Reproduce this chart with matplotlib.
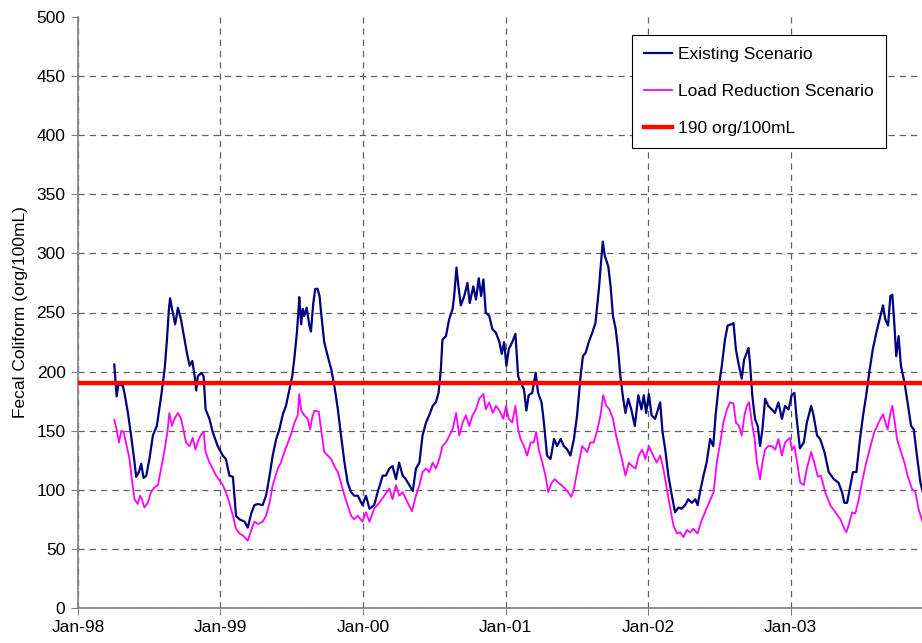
import numpy as np
import matplotlib
matplotlib.use('Agg')
import matplotlib.pyplot as plt
import matplotlib.dates as mdates

# day offsets are counted from 1 Jan 1998
start = np.datetime64('1998-01-01')

existing_day = [93, 99, 103, 106, 115, 119, 128, 136, 145, 149, 156, 162, 168, 175, 183, 192, 202, 213, 222,
                228, 233, 236, 241, 249, 256, 264, 273, 279, 286, 293, 299, 303, 307, 316, 322, 327, 337, 345,
                358, 371, 379, 388, 397, 405, 414, 427, 435, 444, 452, 461, 473, 482, 491, 499, 508, 516, 525,
                533, 542, 549, 555, 561, 566, 567, 572, 576, 580, 586, 593, 597, 603, 608, 614, 619, 623, 631,
                640, 649, 657, 666, 674, 683, 691, 700, 708, 717, 729, 738, 747, 759, 768, 781, 789, 798, 806,
                815, 823, 832, 840, 849, 858, 866, 875, 883, 892, 900, 909, 917, 924, 930, 934, 943, 951, 960,
                964, 970, 975, 981, 990, 998, 1004, 1013, 1020, 1027, 1033, 1039, 1045, 1054, 1062, 1071, 1080,
                1086, 1092, 1098, 1104, 1113, 1121, 1128, 1134, 1143, 1149, 1155, 1164, 1173, 1179, 1188, 1194,
                1202, 1211, 1220, 1228, 1237, 1245, 1254, 1262, 1271, 1279, 1288, 1294, 1301, 1309, 1318, 1326,
                1335, 1341, 1345, 1350, 1359, 1365, 1371, 1378, 1384, 1390, 1396, 1403, 1410, 1418, 1427, 1436,
                1444, 1450, 1456, 1463, 1470, 1479, 1492, 1498, 1505, 1513, 1522, 1530, 1539, 1547, 1556, 1564,
                1573, 1582, 1588, 1594, 1603, 1611, 1620, 1628, 1634, 1641, 1650, 1658, 1665, 1674, 1680, 1686,
                1692, 1701, 1707, 1714, 1718, 1722, 1728, 1735, 1742, 1748, 1754, 1761, 1769, 1778, 1786, 1795,
                1804, 1812, 1821, 1829, 1836, 1841, 1850, 1860, 1868, 1879, 1885, 1894, 1902, 1913, 1924, 1937,
                1949, 1958, 1964, 1971, 1978, 1986, 1995, 2003, 2012, 2020, 2029, 2037, 2046, 2054, 2063, 2069,
                2076, 2082, 2087, 2092, 2097, 2103, 2109, 2118, 2126, 2135, 2142, 2150, 2159, 2165]
existing_val = [206, 179, 188, 189, 188, 182, 165, 146, 123, 111, 115, 122, 110, 112, 126, 146, 154, 179, 202,
                227, 253, 262, 253, 240, 254, 244, 227, 216, 205, 209, 196, 184, 196, 199, 196, 168, 160, 149,
                137, 129, 126, 112, 111, 78, 75, 73, 68, 80, 87, 88, 87, 95, 112, 129, 143, 151, 164,
                171, 185, 196, 213, 233, 256, 263, 240, 253, 247, 254, 239, 234, 258, 270, 270, 264, 250, 225,
                213, 202, 188, 168, 146, 123, 106, 98, 95, 95, 87, 95, 84, 87, 98, 112, 112, 118, 120,
                109, 123, 112, 109, 104, 99, 118, 123, 146, 157, 163, 171, 174, 182, 202, 227, 230, 244, 253,
                264, 288, 272, 256, 264, 275, 258, 272, 261, 279, 264, 278, 250, 247, 236, 233, 225,
                215, 225, 205, 219, 225, 232, 196, 191, 185, 167, 180, 182, 199, 182, 174, 157,
                129, 126, 143, 137, 143, 137, 134, 129, 143, 163, 196, 213, 216, 225, 233, 241,
                270, 295, 310, 298, 289, 272, 247, 236, 219, 196, 180, 165, 177, 168, 154, 180,
                168, 180, 165, 181, 163, 160, 174, 149, 134, 112, 95, 81, 85, 84, 87, 92,
                89, 92, 87, 98, 112, 123, 143, 137, 163, 185, 205, 227, 239, 240, 241, 219,
                208, 194, 210, 216, 220, 208, 180, 160, 154, 137, 151, 177, 171, 168, 165, 174,
                160, 171, 168, 180, 182, 163, 135, 140, 157, 171, 163, 146, 143, 132, 115, 109,
                106, 98, 89, 89, 101, 115, 115, 140, 163, 180, 202, 219, 233, 244, 256, 244,
                239, 264, 265, 241, 213, 230, 205, 191, 174, 154, 151, 129, 106, 98]

reduced_day = [93, 99, 105, 111, 117, 123, 132, 139, 145, 153, 159, 164, 170, 179, 187, 196, 205, 213, 222,
               230, 234, 241, 247, 256, 264, 270, 277, 286, 294, 301, 307, 316, 322, 327, 337, 354, 371,
               379, 388, 397, 405, 414, 424, 435, 444, 452, 461, 473, 482, 491, 499, 512, 520, 529, 538,
               546, 555, 563, 567, 572, 580, 589, 595, 600, 606, 617, 623, 631, 640, 649, 657, 666, 674,
               683, 691, 700, 708, 717, 729, 738, 747, 759, 772, 785, 798, 806, 815, 823, 832, 845, 856,
               866, 875, 883, 892, 900, 909, 917, 926, 934, 943, 952, 960, 969, 977, 986, 994, 1003, 1011,
               1020, 1028, 1039, 1045, 1054, 1063, 1071, 1080, 1090, 1097, 1104, 1113, 1121, 1128, 1134,
               1143, 1151, 1160, 1168, 1174, 1181, 1190, 1198, 1205, 1214, 1222, 1231, 1239, 1248, 1256,
               1264, 1271, 1279, 1292, 1305, 1313, 1322, 1331, 1339, 1346, 1354, 1362, 1371, 1379, 1388,
               1396, 1403, 1412, 1420, 1429, 1437, 1446, 1454, 1463, 1470, 1483, 1492, 1500, 1509, 1518,
               1526, 1535, 1543, 1552, 1560, 1569, 1577, 1588, 1597, 1607, 1617, 1629, 1637, 1646, 1654,
               1663, 1671, 1680, 1686, 1694, 1701, 1708, 1714, 1720, 1727, 1734, 1740, 1748, 1754, 1761,
               1769, 1778, 1787, 1795, 1804, 1812, 1824, 1830, 1836, 1843, 1851, 1860, 1868, 1879, 1887,
               1896, 1904, 1915, 1928, 1941, 1954, 1964, 1969, 1975, 1984, 1992, 2001, 2009, 2020, 2031,
               2041, 2052, 2063, 2069, 2075, 2082, 2087, 2092, 2099, 2107, 2118, 2126, 2137, 2146, 2154, 2165]
reduced_val = [159, 151, 140, 150, 149, 140, 126, 106, 92, 88, 95, 92, 85, 89, 98, 102, 104, 118, 134,
               151, 165, 154, 160, 165, 160, 151, 140, 137, 144, 134, 141, 147, 149, 132, 123, 112, 104,
               98, 89, 78, 67, 63, 61, 57, 66, 73, 71, 73, 78, 89, 104, 118, 123, 132, 140,
               147, 157, 163, 181, 167, 163, 160, 151, 161, 167, 166, 151, 132, 129, 126, 120, 115, 106,
               95, 87, 78, 75, 78, 73, 81, 73, 84, 89, 95, 101, 92, 104, 95, 98, 89, 82,
               95, 104, 115, 118, 115, 123, 118, 126, 137, 140, 146, 151, 165, 146, 157, 163, 154, 163,
               168, 177, 181, 168, 174, 165, 171, 167, 160, 171, 160, 157, 171, 151, 143,
               137, 129, 140, 140, 149, 134, 123, 112, 98, 106, 109, 106, 104, 101, 98,
               94, 101, 115, 137, 132, 140, 140, 151, 163, 180, 171, 168, 160, 146, 134,
               123, 112, 123, 120, 118, 129, 134, 126, 137, 132, 123, 129, 118, 101, 84,
               70, 63, 64, 60, 66, 64, 67, 63, 73, 81, 89, 98, 123, 140, 157,
               168, 174, 173, 157, 154, 146, 163, 171, 174, 157, 143, 123, 109, 123, 134,
               137, 137, 134, 143, 129, 140, 144, 134, 137, 123, 106, 104, 118, 132, 123,
               111, 112, 98, 87, 81, 75, 67, 64, 70, 81, 80, 92, 106, 123, 137,
               149, 157, 164, 157, 151, 165, 171, 160, 143, 134, 123, 112, 101, 98, 84, 72]

threshold = 190
year_ticks = ['1998-01-01', '1999-01-01', '2000-01-01', '2001-01-01', '2002-01-01', '2003-01-01']
y_ticks = list(range(0, 501, 50))

plt.rcParams['font.family'] = ['Liberation Sans', 'DejaVu Sans']
plt.rcParams['font.size'] = 12.5

existing_dates = start + np.array(existing_day).astype('timedelta64[D]')
reduced_dates = start + np.array(reduced_day).astype('timedelta64[D]')

fig = plt.figure(figsize=(9.22, 6.43), dpi=100)
ax = fig.add_axes([78 / 922, 35 / 643, 844 / 922, 591 / 643])

ax.plot(existing_dates, existing_val, color='#000080', lw=1.6, label='Existing Scenario', zorder=3)
ax.plot(reduced_dates, reduced_val, color='#ff00ff', lw=1.3, label='Load Reduction Scenario', zorder=3)
ax.axhline(threshold, color='#ff0000', lw=3.2, label='190 org/100mL', zorder=4)

ax.set_xlim(start, start + np.timedelta64(2163, 'D'))
ax.set_ylim(0, 500)
ax.set_xticks(np.array(year_ticks, dtype='datetime64[D]'))
ax.xaxis.set_major_formatter(mdates.DateFormatter('%b-%y'))
ax.set_yticks(y_ticks)

ax.grid(True, color='#606060', lw=0.9, ls=(0, (5, 4)))
ax.yaxis.get_gridlines()[-1].set_visible(False)
ax.set_axisbelow(True)

for side in ['top', 'right']:
    ax.spines[side].set_visible(False)
for side in ['left', 'bottom']:
    ax.spines[side].set_color('#808080')
    ax.spines[side].set_linewidth(1.2)
ax.tick_params(direction='out', length=5, color='#808080', pad=4)

ax.set_ylabel('Fecal Coliform (org/100mL)', labelpad=6)

leg = ax.legend(loc='upper left', bbox_to_anchor=(632 / 922, 1 - 35 / 643), bbox_transform=fig.transFigure,
                borderaxespad=0, fancybox=False, edgecolor='black', framealpha=1, borderpad=0.7,
                labelspacing=1.25, handlelength=1.6, handletextpad=0.35)
leg.get_frame().set_linewidth(0.8)

plt.savefig('out.png', dpi=100)
plt.close()
